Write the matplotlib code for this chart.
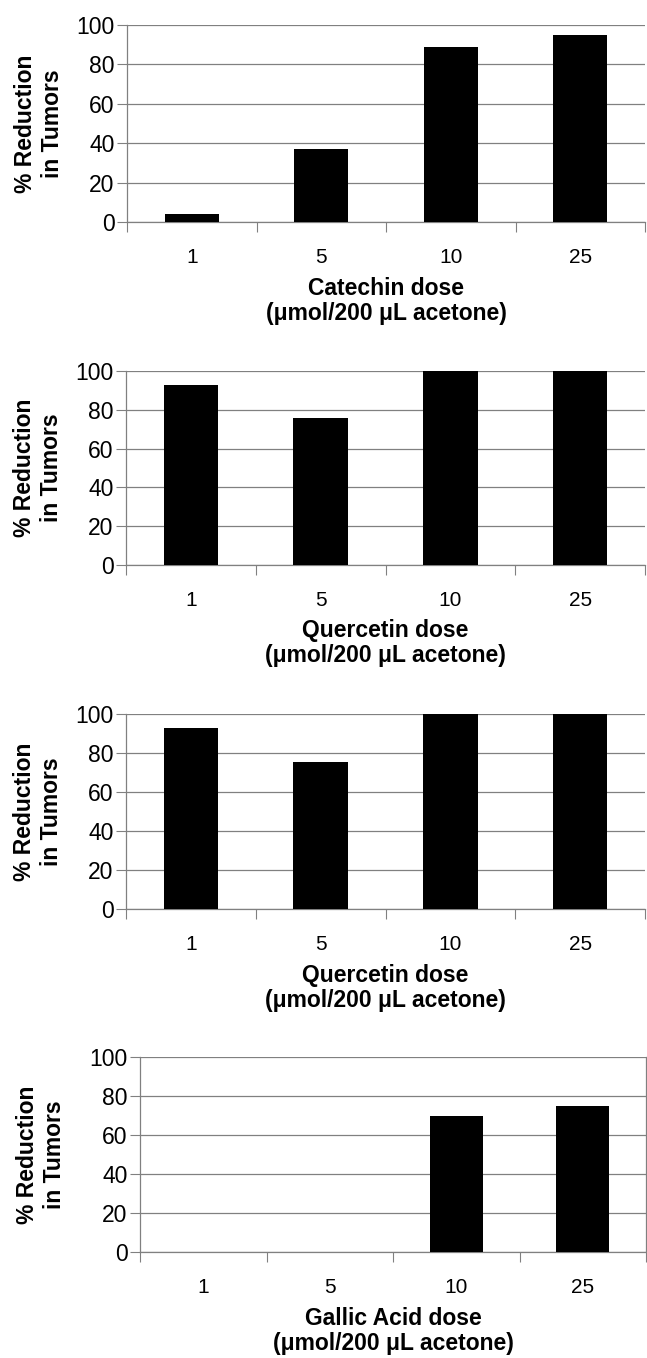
import numpy as np
import matplotlib.pyplot as plt

plt.rcParams['font.family'] = ['Liberation Sans', 'DejaVu Sans']

# Data
doses = ['1', '5', '10', '25']
catechin = [4, 37, 89, 95]
quercetin = [93, 76, 100, 100]
quercetin_repeat = [93, 75.5, 100, 100]
gallic_acid = [0, 0, 70, 75]
compounds = ['Catechin', 'Quercetin', 'Quercetin', 'Gallic Acid']
yticks = [0, 20, 40, 60, 80, 100]

W, H = 647, 1358
# axes boxes in pixels: left, right, top, bottom
boxes = [(127, 645, 25, 222),
         (126, 645, 371, 565),
         (126, 645, 714, 909),
         (140, 646, 1057, 1252)]
ylabel_x = [-0.17, -0.17, -0.17, -0.196]

grey = '#808080'

fig = plt.figure(figsize=(W / 100, H / 100), dpi=100)

series = [catechin, quercetin, quercetin_repeat, gallic_acid]
for i, (vals, name, box) in enumerate(zip(series, compounds, boxes)):
    l, r, t, b = box
    ax = fig.add_axes([l / W, 1 - b / H, (r - l) / W, (b - t) / H])
    x = np.arange(len(doses))
    ax.bar(x, vals, width=0.42, color='black', zorder=3)

    ax.set_xlim(-0.5, len(doses) - 0.5)
    ax.set_ylim(0, 100)
    ax.set_yticks(yticks)
    ax.yaxis.grid(True, color=grey, linewidth=0.9, zorder=0)

    # category ticks between bars, labels centred under bars
    ax.set_xticks(np.arange(-0.5, len(doses), 1.0))
    ax.set_xticklabels([])
    ax.set_xticks(x, minor=True)
    ax.set_xticklabels(doses, minor=True, fontsize=15)
    ax.tick_params(axis='x', which='major', length=7, color=grey, direction='out')
    ax.tick_params(axis='x', which='minor', length=0, pad=19)
    ax.tick_params(axis='y', length=7, color=grey, labelsize=16.5, pad=2)

    for s in ['top', 'right']:
        ax.spines[s].set_visible(False)
    if i == 3:
        ax.spines['right'].set_visible(True)
    for s in ['left', 'bottom', 'right']:
        ax.spines[s].set_color(grey)
        ax.spines[s].set_linewidth(0.9)

    ax.set_ylabel('% Reduction\nin Tumors', fontsize=16.5, fontweight='bold',
                  va='center', linespacing=1.25)
    ax.yaxis.set_label_coords(ylabel_x[i], 0.5)
    ax.set_xlabel(name + ' dose\n(\u03bcmol/200 \u03bcL acetone)', fontsize=16.5,
                  fontweight='bold', linespacing=1.12)
    ax.xaxis.set_label_coords(0.5, -0.28)

fig.savefig('out.png', dpi=100)
